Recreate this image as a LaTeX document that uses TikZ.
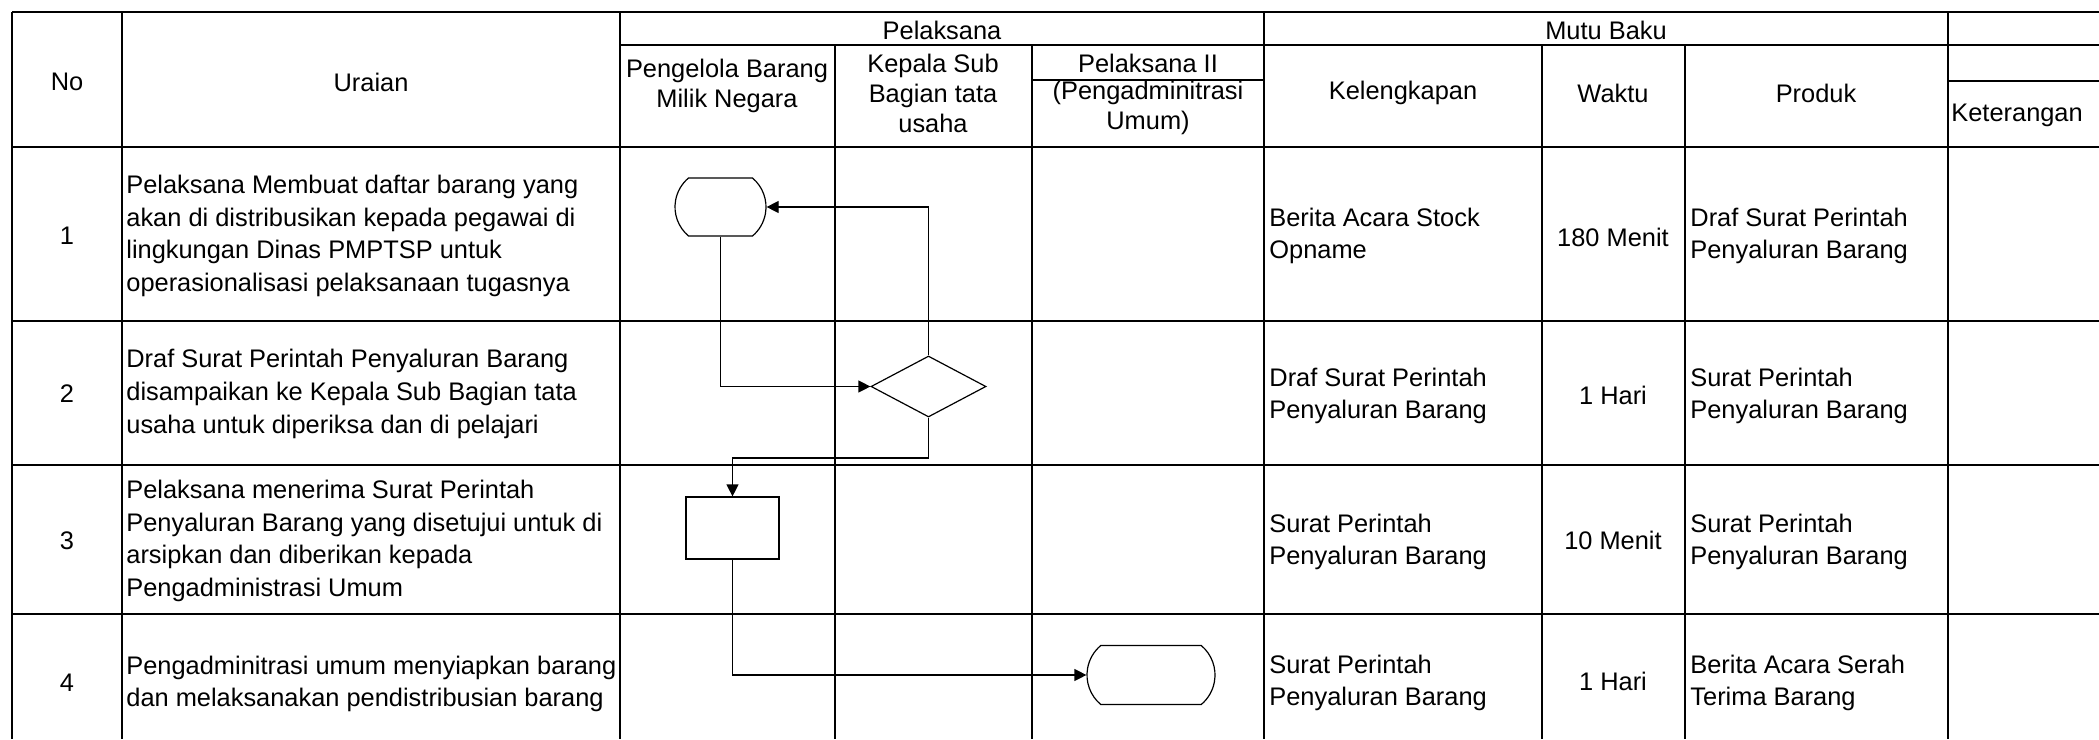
\documentclass[tikz,border=0pt]{standalone}
\usepackage{fontspec}
\setmainfont{Liberation Sans}
\usetikzlibrary{shapes.geometric,shapes.misc,arrows.meta}
\begin{document}
\begin{tikzpicture}[x=0.5pt,y=-0.5pt,
  grid/.style={line width=1pt,black},
  conn/.style={line width=0.6pt,black},
  arr/.style={conn,-{Triangle[length=6pt,width=6pt]}},
  txt/.style={inner sep=0pt,font=\fontsize{12.7}{16.3}\selectfont},
  ltxt/.style={txt,anchor=west,align=left},
  ctxt/.style={txt,align=center},
  htxt/.style={inner sep=0pt,align=center,font=\fontsize{12.7}{15}\selectfont},
  term/.style={rounded rectangle,rounded rectangle arc length=100,draw,line width=0.6pt,inner sep=0pt},
  proc/.style={rectangle,draw,line width=0.6pt,inner sep=0pt},
  dec/.style={diamond,draw,line width=0.6pt,inner sep=0pt}
]
\useasboundingbox (0,0) rectangle (2099,739);
% grid
\draw[grid] (12,12) -- (2099,12);
\foreach \x in {12,122,620,1264,1948} \draw[grid] (\x,12) -- (\x,739);
\foreach \x in {835,1032,1542,1685} \draw[grid] (\x,45) -- (\x,739);
\draw[grid] (620,45) -- (2099,45);
\draw[grid] (1032,80) -- (1264,80);
\draw[grid] (1948,81) -- (2099,81);
\foreach \y in {147,321,465,614} \draw[grid] (12,\y) -- (2099,\y);
% header
\node[htxt] (hno) at (67,82) {No};
\node[htxt] (hur) at (371,82) {Uraian};
\node[htxt] (hpel) at (942,30) {Pelaksana};
\node[htxt] (hmb) at (1606,30) {Mutu Baku};
\node[htxt] (hpbmn) at (727,86) {Pengelola Barang\\Milik Negara};
\node[htxt] (hkep) at (933,93) {Kepala Sub\\Bagian tata\\usaha};
\node[htxt] (hp2) at (1148,63) {Pelaksana II};
\node[htxt] (hpu) at (1148,108) {(Pengadminitrasi\\Umum)};
\node[htxt] (hkel) at (1403,93) {Kelengkapan};
\node[htxt] (hwak) at (1613,93) {Waktu};
\node[htxt] (hpro) at (1816,93) {Produk};
\node[htxt,anchor=west] (hket) at (1951,115) {Keterangan};
% numbers
\node[ctxt] (n1) at (67,236) {1};
\node[ctxt] (n2) at (67,394) {2};
\node[ctxt] (n3) at (67,541) {3};
\node[ctxt] (n4) at (67,683) {4};
% uraian
\node[ltxt] (u1) at (126,236) {Pelaksana Membuat daftar barang yang\\akan di distribusikan kepada pegawai di\\lingkungan Dinas PMPTSP untuk\\operasionalisasi pelaksanaan tugasnya};
\node[ltxt] (u2) at (126,394) {Draf Surat Perintah Penyaluran Barang\\disampaikan ke Kepala Sub Bagian tata\\usaha untuk diperiksa dan di pelajari};
\node[ltxt] (u3) at (126,541) {Pelaksana menerima Surat Perintah\\Penyaluran Barang yang disetujui untuk di\\arsipkan dan diberikan kepada\\Pengadministrasi Umum};
\node[ltxt] (u4) at (126,684) {Pengadminitrasi umum menyiapkan barang\\dan melaksanakan pendistribusian barang};
% kelengkapan
\node[ltxt] (k1) at (1269,236) {Berita Acara Stock\\Opname};
\node[ltxt] (k2) at (1269,396) {Draf Surat Perintah\\Penyaluran Barang};
\node[ltxt] (k3) at (1269,542) {Surat Perintah\\Penyaluran Barang};
\node[ltxt] (k4) at (1269,683) {Surat Perintah\\Penyaluran Barang};
% waktu
\node[ctxt] (w1) at (1613,237) {180 Menit};
\node[ctxt] (w2) at (1613,395) {1 Hari};
\node[ctxt] (w3) at (1613,540) {10 Menit};
\node[ctxt] (w4) at (1613,681) {1 Hari};
% produk
\node[ltxt] (p1) at (1690,236) {Draf Surat Perintah\\Penyaluran Barang};
\node[ltxt] (p2) at (1690,396) {Surat Perintah\\Penyaluran Barang};
\node[ltxt] (p3) at (1690,542) {Surat Perintah\\Penyaluran Barang};
\node[ltxt] (p4) at (1690,683) {Berita Acara Serah\\Terima Barang};
% flow
\node[term,minimum width=45.5pt,minimum height=29pt] (t1) at (720.5,207) {};
\node[dec,minimum width=57.5pt,minimum height=30.5pt] (d) at (928.5,386.5) {};
\node[proc,minimum width=46.5pt,minimum height=31pt] (b) at (732.5,528) {};
\node[term,minimum width=64pt,minimum height=29.5pt] (t2) at (1151,675) {};
\coordinate (bend) at (850,458);
\draw[arr] (d.north) |- (t1.east);
\draw[arr] (t1.south) |- (d.west);
\draw[arr] (d.south) |- (bend) -| (b.north);
\draw[arr] (b.south) |- (t2.west);
\end{tikzpicture}
\end{document}
